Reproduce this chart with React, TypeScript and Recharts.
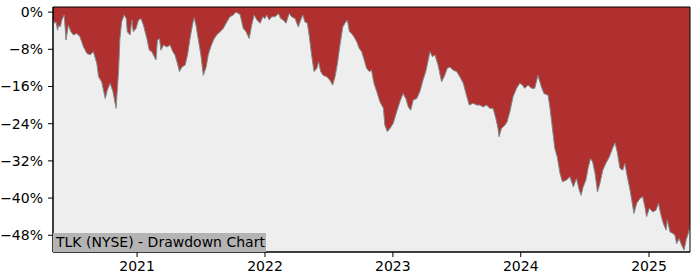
import React from "react";
import { AreaChart, Area, XAxis, YAxis, CartesianGrid, ReferenceArea } from "recharts";

const dates: string[] = [
  "2020-05-06","2020-05-12","2020-05-15","2020-05-19","2020-05-22","2020-05-27","2020-05-31","2020-06-07","2020-06-12","2020-06-19",
  "2020-06-26","2020-07-03","2020-07-13","2020-07-22","2020-08-01","2020-08-11","2020-08-20","2020-08-29","2020-09-08","2020-09-13",
  "2020-09-22","2020-10-02","2020-10-08","2020-10-16","2020-10-24","2020-11-02","2020-11-09","2020-11-13","2020-11-18","2020-11-25",
  "2020-12-01","2020-12-04","2020-12-12","2020-12-17","2020-12-21","2020-12-29",
  "2021-01-05","2021-01-12","2021-01-19","2021-01-29","2021-02-05","2021-02-12","2021-02-19","2021-02-24","2021-02-28","2021-03-06",
  "2021-03-10","2021-03-17","2021-03-27","2021-04-05","2021-04-13","2021-04-19","2021-04-26","2021-05-02","2021-05-09","2021-05-18",
  "2021-05-25","2021-06-01","2021-06-09","2021-06-13","2021-06-18","2021-06-25","2021-07-02","2021-07-09","2021-07-17","2021-07-23",
  "2021-07-30","2021-08-07","2021-08-16","2021-08-26","2021-09-04","2021-09-14","2021-09-23","2021-10-03","2021-10-10","2021-10-22",
  "2021-10-31","2021-11-08","2021-11-17","2021-11-24","2021-12-01","2021-12-09","2021-12-18","2021-12-26",
  "2022-01-01","2022-01-06","2022-01-13","2022-01-20","2022-01-30","2022-02-08","2022-02-15","2022-02-22","2022-03-02","2022-03-11",
  "2022-03-18","2022-03-28","2022-04-06","2022-04-13","2022-04-19","2022-04-25","2022-05-02","2022-05-07","2022-05-14","2022-05-21",
  "2022-05-29","2022-06-03","2022-06-09","2022-06-16","2022-06-26","2022-07-05","2022-07-13","2022-07-20","2022-07-26","2022-08-03",
  "2022-08-11","2022-08-17","2022-08-24","2022-08-30","2022-09-05","2022-09-12","2022-09-20","2022-09-27","2022-10-04","2022-10-10",
  "2022-10-18","2022-10-26","2022-11-01","2022-11-08","2022-11-16","2022-11-25","2022-12-05","2022-12-09","2022-12-16","2022-12-24",
  "2023-01-02","2023-01-12","2023-01-21","2023-01-30","2023-02-07","2023-02-14","2023-02-21","2023-02-28","2023-03-10","2023-03-19",
  "2023-03-28","2023-04-05","2023-04-12","2023-04-17","2023-04-24","2023-05-01","2023-05-10","2023-05-20","2023-05-29","2023-06-05",
  "2023-06-13","2023-06-22","2023-07-02","2023-07-11","2023-07-21","2023-07-30","2023-08-07","2023-08-18","2023-08-28","2023-09-06",
  "2023-09-16","2023-09-25","2023-10-05","2023-10-14","2023-10-22","2023-10-28","2023-10-31","2023-11-07","2023-11-17","2023-11-23",
  "2023-12-01","2023-12-10","2023-12-20","2023-12-29",
  "2024-01-06","2024-01-12","2024-01-22","2024-02-01","2024-02-10","2024-02-19","2024-02-29","2024-03-07","2024-03-19","2024-03-24",
  "2024-04-01","2024-04-07","2024-04-14","2024-04-22","2024-04-29","2024-05-11","2024-05-20","2024-05-30","2024-06-08","2024-06-16",
  "2024-06-21","2024-06-27","2024-07-05","2024-07-11","2024-07-18","2024-07-24","2024-07-31","2024-08-07","2024-08-14","2024-08-22",
  "2024-08-31","2024-09-10","2024-09-19","2024-09-26","2024-10-02","2024-10-10","2024-10-18","2024-10-24","2024-10-31","2024-11-08",
  "2024-11-15","2024-11-19","2024-11-27","2024-12-06","2024-12-14","2024-12-21","2024-12-25",
  "2025-01-02","2025-01-12","2025-01-21","2025-01-28","2025-02-03","2025-02-11","2025-02-19","2025-02-22","2025-03-02","2025-03-10",
  "2025-03-16","2025-03-21","2025-03-28","2025-04-04","2025-04-11","2025-04-17","2025-04-23","2025-04-28",
];

const drawdown: number[] = [
  -1.7,-2.4,-2.1,-3.9,-2.8,-3.2,-1.7,-0.6,-6.0,-2.8,
  -4.2,-4.9,-4.6,-5.3,-7.5,-8.9,-9.2,-8.5,-11.0,-13.9,
  -15.0,-18.6,-16.8,-15.3,-17.1,-20.7,-12.8,-5.7,-2.1,-0.6,
  -1.4,-4.2,-4.9,-1.7,-4.2,-3.5,
  -1.7,-1.4,-2.8,-5.7,-8.2,-8.5,-9.6,-10.3,-6.0,-5.7,
  -8.2,-7.1,-7.5,-7.1,-8.5,-9.2,-11.0,-12.8,-11.8,-11.4,
  -9.2,-5.7,-2.4,-1.2,-2.8,-6.0,-9.2,-13.6,-11.8,-9.2,
  -7.5,-6.0,-4.9,-4.2,-3.5,-2.1,-1.0,-0.6,0,-0.5,
  -3.5,-4.2,-5.7,-2.8,-0.6,-1.7,-2.4,-1.0,
  -1.4,-0.6,-1.7,-1.0,-1.0,-0.3,-1.4,-1.7,-2.4,-0.3,
  -1.0,-1.4,-3.2,-1.7,-0.6,-2.1,-2.4,-4.9,-9.2,-12.8,
  -12.1,-10.7,-12.8,-13.6,-13.9,-14.6,-15.7,-13.9,-11.4,-7.1,
  -3.2,-2.4,-1.7,-4.2,-4.6,-5.3,-6.4,-7.8,-8.5,-10.0,
  -12.1,-12.8,-12.5,-15.3,-17.1,-19.3,-20.7,-24.3,-25.7,-25.0,
  -23.9,-21.4,-19.3,-17.5,-18.6,-20.4,-21.1,-18.9,-18.6,-17.1,
  -14.6,-12.8,-10.3,-8.5,-9.6,-9.2,-11.4,-15.0,-13.6,-12.1,
  -11.8,-12.5,-12.8,-13.9,-15.3,-17.9,-20.0,-19.6,-20.0,-20.0,
  -20.4,-20.0,-20.7,-20.7,-22.9,-25.0,-26.8,-25.0,-24.3,-23.6,
  -21.4,-18.2,-16.4,-15.3,
  -15.7,-16.4,-15.7,-16.4,-16.4,-13.6,-16.1,-17.5,-17.9,-20.4,
  -25.4,-29.3,-31.1,-34.7,-36.5,-36.1,-35.4,-37.6,-35.8,-38.3,
  -39.4,-37.6,-36.1,-33.6,-31.5,-32.2,-34.7,-38.7,-36.8,-34.0,
  -32.5,-31.1,-29.3,-28.1,-30.0,-33.6,-34.0,-32.5,-35.4,-38.3,
  -41.5,-43.3,-41.1,-40.1,-39.7,-42.2,-44.0,
  -42.2,-43.0,-42.6,-41.1,-43.3,-45.5,-46.9,-44.7,-47.3,-47.6,
  -48.0,-49.8,-48.7,-50.1,-51.2,-49.0,-47.6,-46.2,
];

const yearTicks: string[] = ["2021-01-01", "2022-01-01", "2023-01-01", "2024-01-01", "2025-01-01"];
const yTicks: number[] = [0, -8, -16, -24, -32, -40, -48];
const titleText = "TLK (NYSE) - Drawdown Chart";

const Y_MIN = -51.6;
const Y_MAX = 1.1;

const data = dates.map((d, i) => ({ t: Date.parse(d), dd: drawdown[i] }));
const xTicks = yearTicks.map((d) => Date.parse(d));

const FONT = "DejaVu Sans";

const fmtY = (v: number) => (v === 0 ? "0%" : `\u2212${Math.abs(v)}%`);
const fmtX = (t: number) => String(new Date(t).getUTCFullYear());

export default function App() {
  const tMin = data[0].t;
  const tMax = data[data.length - 1].t;
  return (
    <div style={{ position: "absolute", left: 0, top: 0, width: 700, height: 280, background: "#ffffff" }}>
      <AreaChart width={700} height={280} data={data} margin={{ top: 7, right: 10, bottom: 0, left: 0 }}>
        <CartesianGrid horizontal={false} vertical={false} fill="#eeeeee" fillOpacity={1} />
        <XAxis
          dataKey="t"
          type="number"
          scale="time"
          domain={[tMin, tMax]}
          ticks={xTicks}
          tickFormatter={fmtX}
          height={28}
          tickSize={5}
          tickMargin={4}
          axisLine={{ stroke: "#000" }}
          tickLine={{ stroke: "#000" }}
          tick={{ fill: "#000", fontSize: 14, fontFamily: FONT }}
          allowDataOverflow
        />
        <YAxis
          type="number"
          domain={[Y_MIN, Y_MAX]}
          ticks={yTicks}
          tickFormatter={fmtY}
          width={53}
          tickSize={5}
          tickMargin={5}
          axisLine={{ stroke: "#000" }}
          tickLine={{ stroke: "#000" }}
          tick={{ fill: "#000", fontSize: 14, fontFamily: FONT }}
          allowDataOverflow
        />
        <Area
          dataKey="dd"
          type="linear"
          baseValue={Y_MAX}
          fill="#b03030"
          fillOpacity={1}
          stroke="#7f8a8a"
          strokeWidth={1}
          dot={false}
          activeDot={false}
          isAnimationActive={false}
        />
        <ReferenceArea x1={tMin} x2={tMax} y1={Y_MIN} y2={Y_MAX} fill="none" stroke="#000" strokeWidth={1} ifOverflow="visible" />
      </AreaChart>
      <div
        style={{
          position: "absolute",
          left: 53,
          top: 233,
          width: 210,
          height: 19,
          paddingLeft: 3,
          background: "#b4b4b4",
          fontFamily: FONT,
          fontSize: 14,
          lineHeight: "19px",
          color: "#000",
          whiteSpace: "nowrap",
        }}
      >
        {titleText}
      </div>
    </div>
  );
}
